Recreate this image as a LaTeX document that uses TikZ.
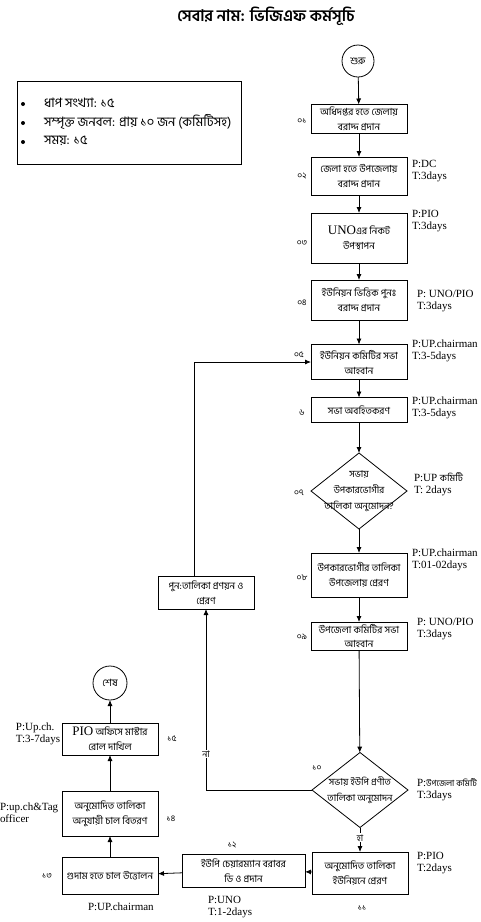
\documentclass[tikz,border=0pt]{standalone}
\usepackage{fontspec}
\setmainfont{Liberation Serif}
\newfontfamily\bn[Script=Bengali]{Hind Siliguri}
\usetikzlibrary{arrows.meta,shapes.geometric,calc}
\begin{document}
\begin{tikzpicture}[x=1pt,y=-1pt,
  every node/.style={inner sep=0pt, outer sep=0pt},
  box/.style={draw, line width=0.8pt, minimum width=96pt, align=center,
    font=\bn\fontsize{9.8}{15}\selectfont},
  dia/.style={draw, line width=0.8pt, diamond, minimum width=96pt, minimum height=76pt},
  dtext/.style={align=center, font=\bn\fontsize{9.5}{16}\selectfont},
  term/.style={draw, line width=0.8pt, circle, font=\bn\fontsize{10}{11}\selectfont},
  num/.style={font=\bn\fontsize{8.5}{9}\selectfont},
  pt/.style={anchor=west, align=left, font=\fontsize{11}{12}\selectfont},
  lbl/.style={fill=white, inner sep=1pt, font=\bn\fontsize{9}{9}\selectfont},
  arr/.style={line width=0.8pt, -{Latex[length=6pt,width=5pt]}},
  ln/.style={line width=0.8pt},
  info/.style={anchor=west, font=\bn\fontsize{13}{14}\selectfont},
  bul/.style={circle, fill=black, minimum size=4pt}
]
\useasboundingbox (0,0) rectangle (481,922);

% title
\node[font=\bn\bfseries\fontsize{16}{18}\selectfont] (title) at (266,16) {সেবার নাম: ভিজিএফ  কর্মসূচি};

% info box
\node[draw, line width=0.8pt, minimum width=224pt, minimum height=83pt, anchor=north west] (info) at (17,81) {};
\node[bul] (bu1) at (23,104) {};
\node[bul] (bu2) at (23,123) {};
\node[bul] (bu3) at (23,142) {};
\node[info] (i1) at (44,103) {ধাপ সংখ্যা: ১৫};
\node[info] (i2) at (44,122) {সম্পৃক্ত জনবল: প্রায় ১০ জন (কমিটিসহ)};
\node[info] (i3) at (44,141) {সময়: ১৫};

% main column
\node[term, minimum size=32pt] (start) at (358,61) {শুরু};
\node[box, minimum height=29pt] (b1) at (359,119) {অধিদপ্তর হতে জেলায়\\বরাদ্দ প্রদান};
\node[box, minimum height=38pt] (b2) at (359,176) {জেলা হতে  উপজেলায়\\বরাদ্দ প্রদান};
\node[box, minimum height=50pt] (b3) at (359,238) {{\fontspec{Liberation Serif}\fontsize{13}{15}\selectfont UNO}এর নিকট\\উপস্থাপন};
\node[box, minimum height=40pt] (b4) at (359,300) {ইউনিয়ন ভিত্তিক পুনঃ\\বরাদ্দ প্রদান};
\node[box, minimum height=35pt] (b5) at (359,362) {ইউনিয়ন কমিটির সভা\\আহবান};
\node[box, minimum height=25pt] (b6) at (359,410) {সভা অবহিতকরণ};
\node[dia] (d7) at (359,491) {};
\node[dtext] (d7t) at (359,491) {সভায়\\উপকারভোগীর\\তালিকা অনুমোদন?};
\node[box, minimum height=44pt] (b8) at (359,575) {উপকারভোগীর তালিকা\\উপজেলায় প্রেরণ};
\node[box, minimum height=28pt, font=\bn\fontsize{9.8}{13.5}\selectfont] (b9) at (359,636) {উপজেলা কমিটির সভা\\আহবান};
\node[dia, minimum height=75pt] (d10) at (360,790) {};
\node[dtext] (d10t) at (360,790) {সভায় ইউপি প্রণীত\\তালিকা অনুমোদন};
\node[box, minimum height=42pt] (b11) at (360,873) {অনুমোদিত  তালিকা\\ইউনিয়নে  প্রেরণ};
\node[box, minimum width=123pt, minimum height=33pt] (b12) at (243.5,870.5) {ইউপি চেয়ারম্যান বরাবর\\ডি ও  প্রদান};
\node[box, minimum height=37pt] (b13) at (110,875.5) {গুদাম হতে চাল উত্তোলন};
\node[box, minimum height=45pt] (b14) at (110,813.5) {অনুমোদিত তালিকা\\অনুযায়ী  চাল বিতরণ};
\node[box, minimum height=32pt] (b15) at (110,739) {{\fontspec{Liberation Serif}\fontsize{13}{15}\selectfont PIO} অফিসে মাস্টার\\রোল দাখিল};
\node[term, minimum size=34pt] (end) at (110,683) {শেষ};
\node[box, minimum height=33pt] (retry) at (206,592.5) {পুন:তালিকা প্রণয়ন ও\\প্রেরণ};
\coordinate (rtop) at (194,576);

% connectors
\draw[arr] (start) -- (b1);
\draw[arr] (b1) -- (b2);
\draw[arr] (b2) -- (b3);
\draw[arr] (b3) -- (b4);
\draw[arr] (b4) -- (b5);
\draw[arr] (b5) -- (b6);
\draw[arr] (b6) -- (d7);
\draw[arr] (d7) -- (b8);
\draw[arr] (b8) -- (b9);
\draw[arr] (b9) -- (d10);
\draw[arr] (d10) -- node[lbl, pos=0.42] {হা} (b11);
\draw[arr] (b11) -- (b12);
\draw[arr] (b12) -- (b13);
\draw[arr] (b13) -- (b14);
\draw[arr] (b14) -- (b15);
\draw[arr] (b15) -- (end);
\draw[arr] (d10.west) -| node[lbl, pos=0.6] {না} (retry.south);
\draw[arr] (rtop) |- (b5.west);

% step numbers
\node[num] (n1) at (302,121) {০১};
\node[num] (n2) at (302,176) {০২};
\node[num] (n3) at (302,243) {০৩};
\node[num] (n4) at (302,303) {০৪};
\node[num] (n5) at (299,355) {০৫};
\node[num] (n6) at (302,413) {৬};
\node[num] (n7) at (299,493) {০৭};
\node[num] (n8) at (302,578) {০৮};
\node[num] (n9) at (302,637) {০৯};
\node[num] (n10) at (317,768) {১০};
\node[num] (n11) at (362,908) {১১};
\node[num] (n12) at (232,845) {১২};
\node[num] (n13) at (47,876) {১৩};
\node[num] (n14) at (171,819) {১৪};
\node[num] (n15) at (172,739) {১৫};

% person / time labels
\node[pt] (p2) at (412,171) {P:DC\\T:3days};
\node[pt] (p3) at (412,221) {P:PIO\\T:3days};
\node[pt] (p4) at (417,301) {P: UNO/PIO\\T:3days};
\node[pt] (p5) at (412,351) {P:UP.chairman\\T:3-5days};
\node[pt] (p6) at (412,408) {P:UP.chairman\\T:3-5days};
\node[pt] (p7) at (414,484) {P:UP {\bn\fontsize{9.5}{12}\selectfont কমিটি}\\T: 2days};
\node[pt] (p8) at (412,560) {P:UP.chairman\\T:01-02days};
\node[pt] (p9) at (417,629) {P: UNO/PIO\\T:3days};
\node[pt] (p10) at (417,790) {P:{\bn\fontsize{8.5}{12}\selectfont উপজেলা কমিটি}\\T:3days};
\node[pt] (p11) at (417,863) {P:PIO\\T:2days};
\node[pt] (p12) at (208,907) {P:UNO\\T:1-2days};
\node[pt] (p13) at (88,907) {P:UP.chairman};
\node[pt] (p14) at (0,813) {P:up.ch\&Tag\\officer};
\node[pt] (p15) at (16,734) {P:Up.ch.\\T:3-7days};
\end{tikzpicture}
\end{document}
